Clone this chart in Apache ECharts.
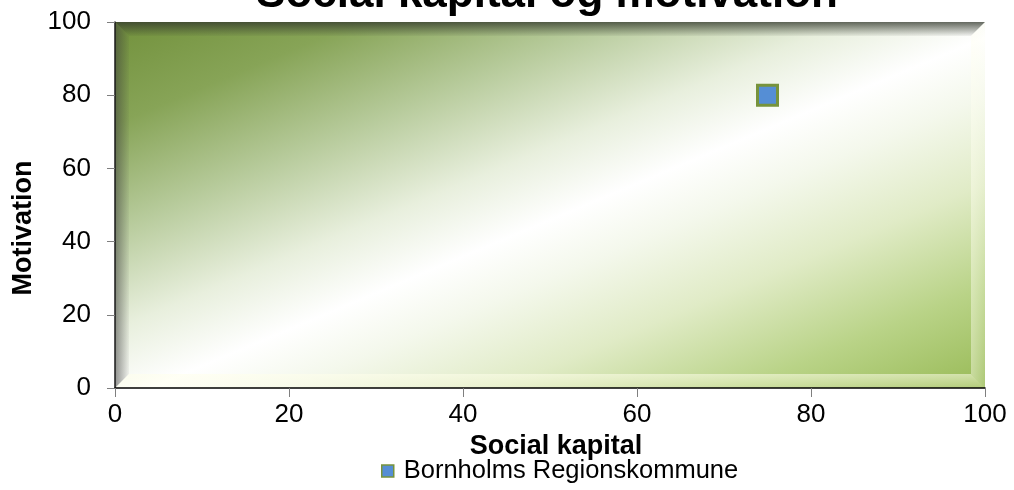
<!DOCTYPE html>
<html>
<head>
<meta charset="utf-8">
<script src="https://cdn.jsdelivr.net/npm/echarts@6/dist/echarts.min.js"></script>
<style>
html,body{margin:0;padding:0;background:#fff;}
#chart{width:1014px;height:490px;}
</style>
</head>
<body>
<div id="chart"></div>
<script>
const titleText = 'Social kapital og motivation';
const xAxisName = 'Social kapital';
const yAxisName = 'Motivation';
const seriesName = 'Bornholms Regionskommune';
const socialKapital = [75];
const motivation = [80];
const axisMin = 0;
const axisMax = 100;
const axisStep = 20;

const L = 115, T = 22, R = 985, B = 388, BW = 14;
const FONT = '"Liberation Sans", Arial, sans-serif';

const chart = echarts.init(document.getElementById('chart'), null, {renderer: 'canvas'});

function lin(x, y, x2, y2, stops) {
  return {type: 'linear', x: x, y: y, x2: x2, y2: y2,
    colorStops: stops.map(s => ({offset: s[0], color: s[1]}))};
}

const graphics = [
  {type: 'rect', z: 0, silent: true,
   shape: {x: L, y: T, width: R - L, height: B - T},
   style: {fill: lin(0, 0, 0.30, 1.70, [
     [0, '#72913c'], [0.14, '#87a457'], [0.28, '#b6ca9a'], [0.42, '#e8efdd'],
     [0.52, '#ffffff'], [0.6, '#f4f8ec'], [0.72, '#e0ebc6'], [0.86, '#b9d387'], [1, '#98ba56']])}},
  {type: 'polygon', z: 1, silent: true,
   shape: {points: [[L, T], [R, T], [R - BW, T + BW], [L + BW, T + BW]]},
   style: {fill: lin(0, 0, 0, 1, [[0, 'rgba(50,55,45,0.75)'], [1, 'rgba(50,55,45,0.05)']])}},
  {type: 'polygon', z: 1, silent: true,
   shape: {points: [[L, T], [L + BW, T + BW], [L + BW, B - BW], [L, B]]},
   style: {fill: lin(0, 0, 1, 0, [[0, 'rgba(60,60,60,0.55)'], [1, 'rgba(60,60,60,0.05)']])}},
  {type: 'polygon', z: 1, silent: true,
   shape: {points: [[L, B], [L + BW, B - BW], [R - BW, B - BW], [R, B]]},
   style: {fill: lin(0, 0, 0, 1, [[0, 'rgba(255,255,235,0.55)'], [1, 'rgba(255,255,225,0.25)']])}},
  {type: 'polygon', z: 1, silent: true,
   shape: {points: [[R, T], [R, B], [R - BW, B - BW], [R - BW, T + BW]]},
   style: {fill: lin(0, 0, 1, 0, [[0, 'rgba(255,255,240,0.45)'], [1, 'rgba(255,255,240,0.2)']])}}
];

const option = {
  animation: false,
  backgroundColor: '#ffffff',
  title: {
    text: titleText,
    left: 542,
    textAlign: 'center',
    top: -32,
    textStyle: {fontFamily: FONT, fontSize: 44, fontWeight: 'bold', color: '#000'}
  },
  legend: {
    data: [{name: seriesName, icon: 'rect',
            itemStyle: {color: '#558ed5', borderColor: '#77933c', borderWidth: 1.5}}],
    left: 376,
    top: 453,
    itemWidth: 12,
    itemHeight: 12,
    itemGap: 6,
    textStyle: {fontFamily: FONT, fontSize: 25.5, color: '#000', padding: [0, 0, 0, 5]}
  },
  grid: {left: L, top: T, width: R - L, height: B - T, show: false, containLabel: false},
  graphic: graphics,
  xAxis: {
    type: 'value', min: axisMin, max: axisMax, interval: axisStep, z: 5,
    name: xAxisName, nameLocation: 'middle', nameGap: 45,
    nameTextStyle: {fontFamily: FONT, fontSize: 27, fontWeight: 'bold', color: '#000', padding: [0, 0, 0, 12]},
    axisLine: {show: true, lineStyle: {color: '#000', width: 1.5}},
    axisTick: {show: true, inside: false, length: 9, lineStyle: {color: '#7f7f7f'}},
    axisLabel: {fontFamily: FONT, fontSize: 26, color: '#000', margin: 14},
    splitLine: {show: false}
  },
  yAxis: {
    type: 'value', min: axisMin, max: axisMax, interval: axisStep, z: 5,
    name: yAxisName, nameLocation: 'middle', nameGap: 73,
    nameTextStyle: {fontFamily: FONT, fontSize: 27, fontWeight: 'bold', color: '#000', padding: [0, 46, 0, 0]},
    axisLine: {show: true, lineStyle: {color: '#1a1a1a', width: 1.5}},
    axisTick: {show: true, inside: false, length: 8, lineStyle: {color: '#7f7f7f'}},
    axisLabel: {fontFamily: FONT, fontSize: 26, color: '#000', margin: 24},
    splitLine: {show: false}
  },
  series: [{
    name: seriesName,
    type: 'scatter',
    z: 10,
    symbol: 'rect',
    symbolSize: 20,
    itemStyle: {color: '#558ed5', borderColor: '#77933c', borderWidth: 3, opacity: 1},
    data: socialKapital.map((x, i) => [x, motivation[i]])
  }]
};

chart.setOption(option);
</script>
</body>
</html>
